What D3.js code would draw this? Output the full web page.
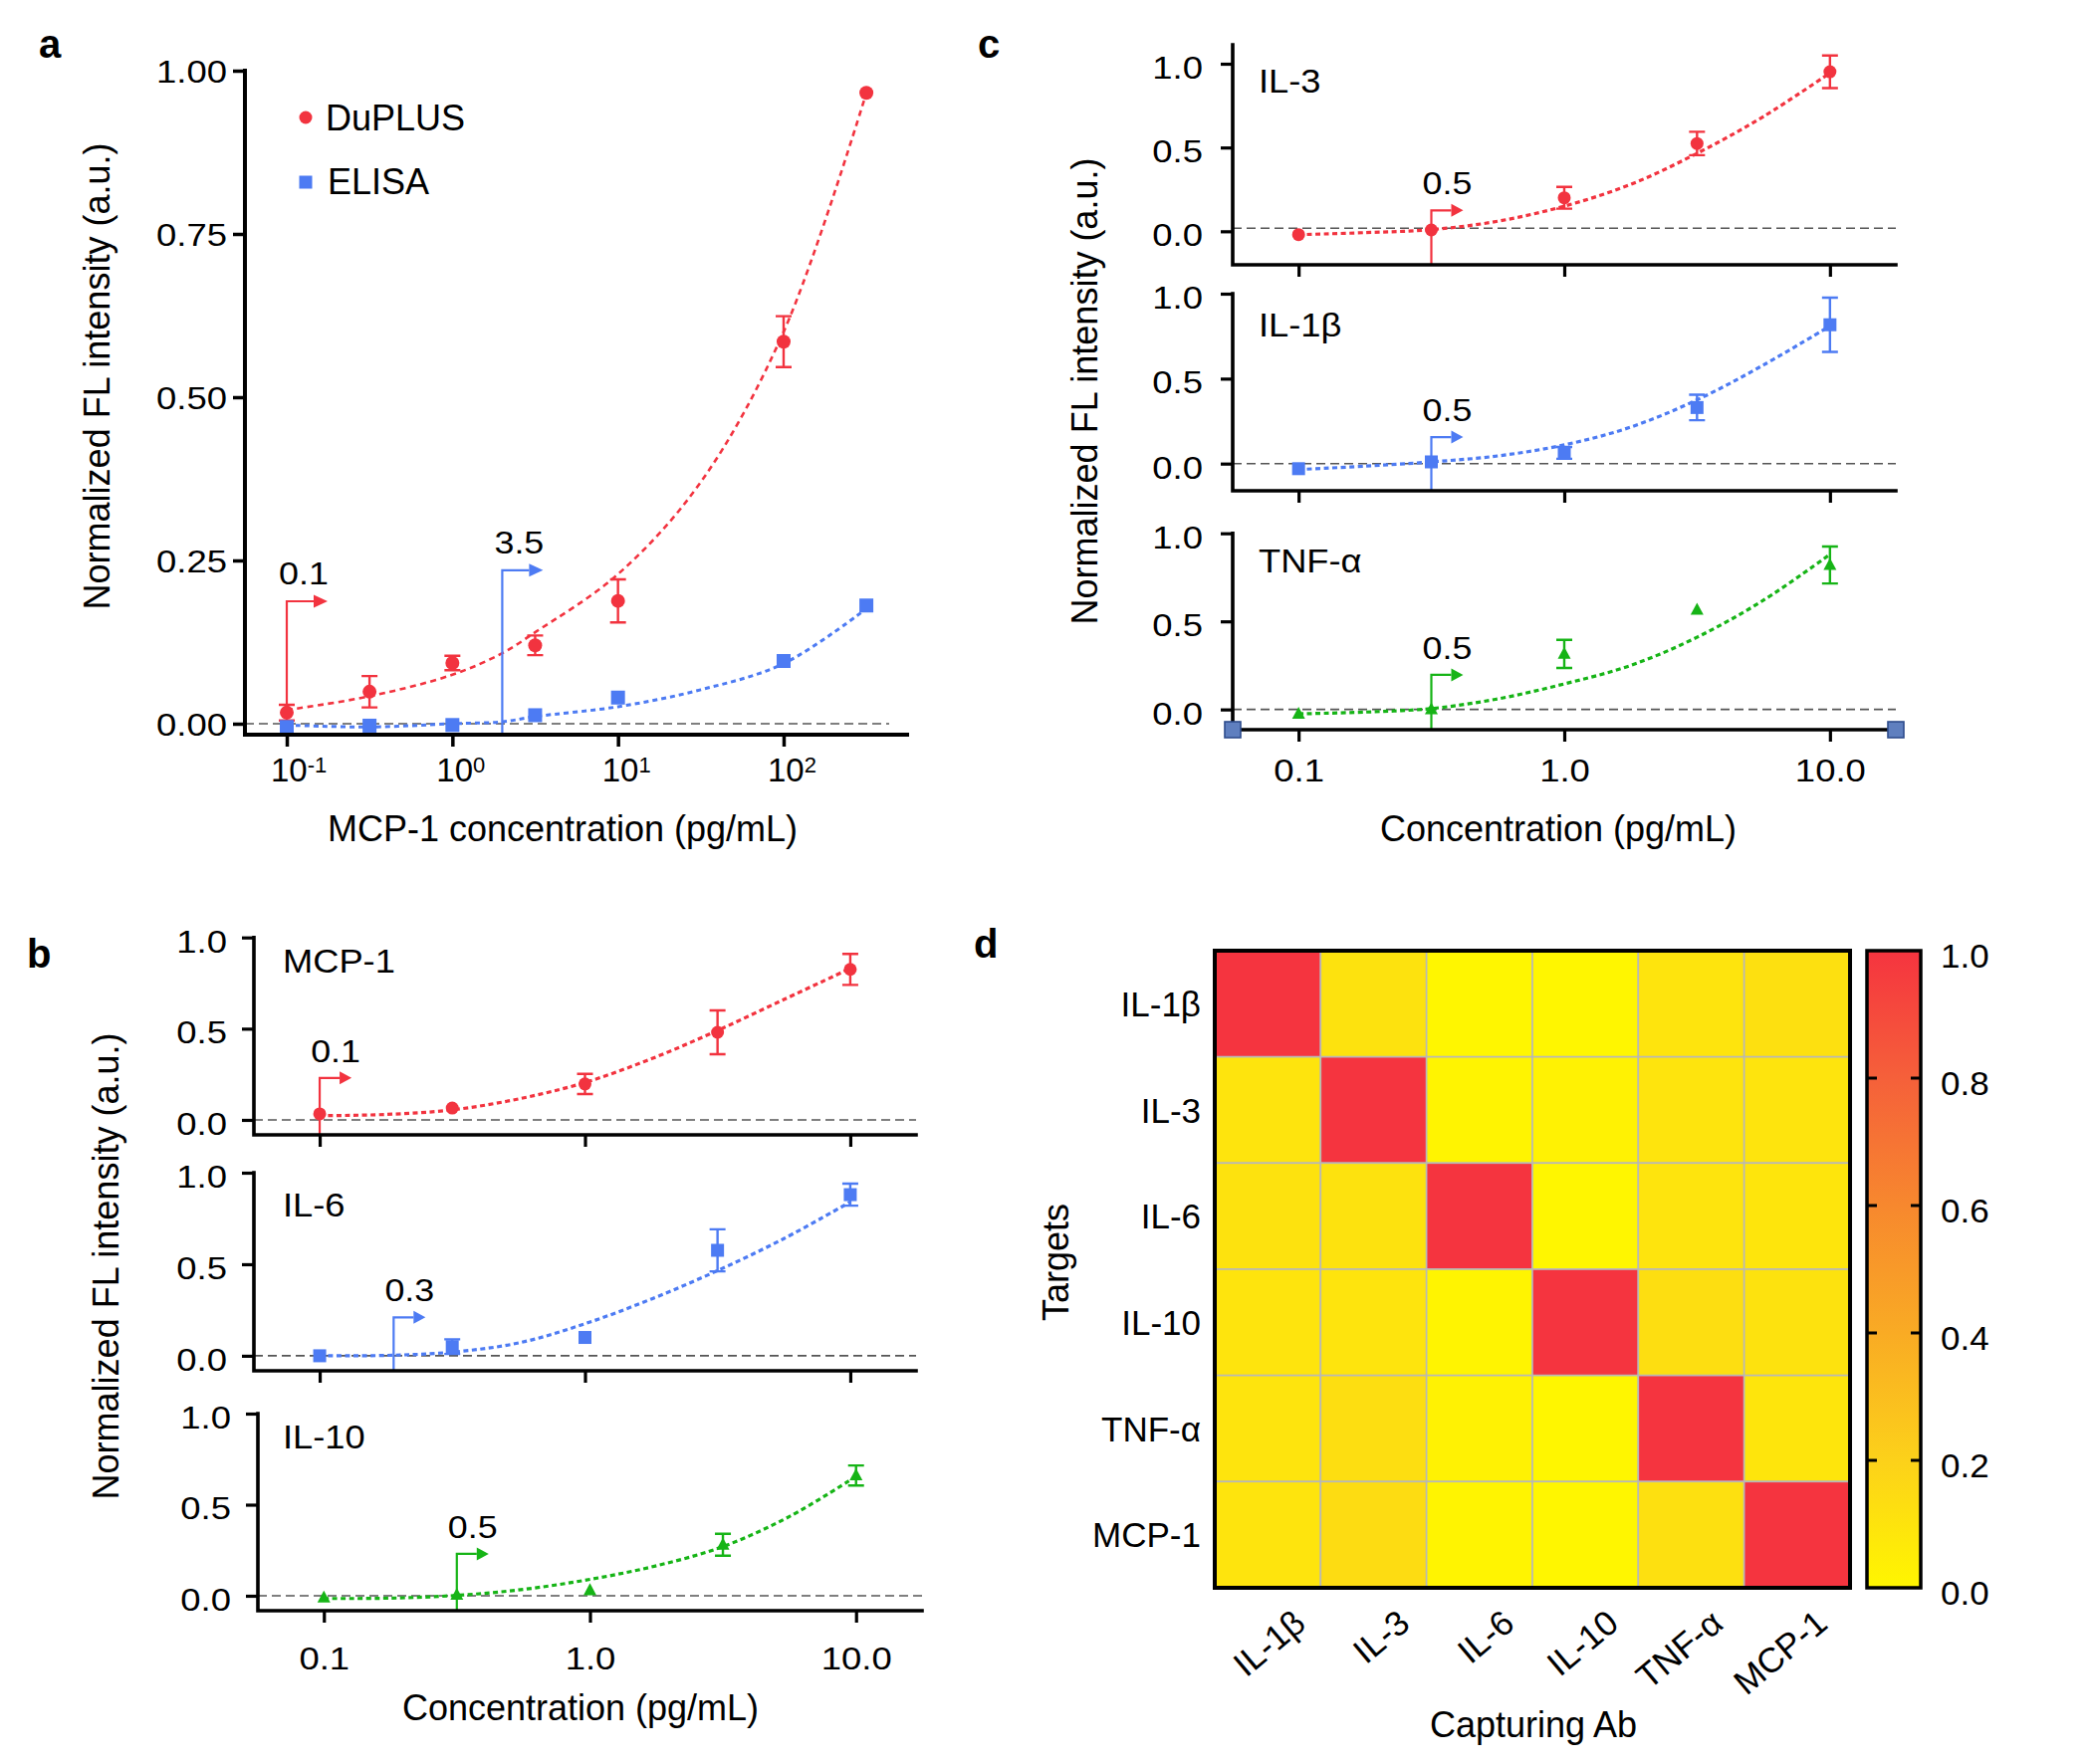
<!DOCTYPE html>
<html>
<head>
<meta charset="utf-8">
<script src="https://cdn.jsdelivr.net/npm/d3@7/dist/d3.min.js"></script>
<style>
  html,body{margin:0;padding:0;background:#fff;}
  svg{display:block;}
  text{font-family:"Liberation Sans", Arial, Helvetica, sans-serif; fill:#000;}
</style>
</head>
<body>
<svg id="fig" width="2100" height="1772" viewBox="0 0 2100 1772"></svg>
<script>
// ====================== DATA ======================
// ---- Panel a : MCP-1, DuPLUS vs ELISA ----
const concA = [0.1, 0.316, 1, 3.16, 10, 100, 316];
const duplusA = [0.017, 0.049, 0.093, 0.120, 0.188, 0.585, 0.966];
const duplusErrA = [0.012, 0.024, 0.011, 0.015, 0.033, 0.039, 0];
const elisaA = [-0.005, -0.003, -0.002, 0.013, 0.040, 0.096, 0.181];
const elisaErrA = [0, 0, 0, 0, 0, 0, 0];
const fitConcA = [0.1, 0.316, 1, 2, 3.16, 10, 31.6, 100, 316];
const duplusFitA = [0.021, 0.042, 0.075, 0.108, 0.140, 0.229, 0.370, 0.600, 0.966];
const elisaFitA = [-0.002, -0.005, 0.000, 0.003, 0.011, 0.026, 0.052, 0.092, 0.176];
const yTicksA = [0, 0.25, 0.5, 0.75, 1.0];
const yTickLabelsA = ["0.00", "0.25", "0.50", "0.75", "1.00"];
const xTicksA = [0.1, 1, 10, 100];
const xTickExpA = ["-1", "0", "1", "2"];
const legendA = ["DuPLUS", "ELISA"];
const lodA = [
  {x: 0.1, top: 0.1875, label: "0.1"},
  {x: 2.0, top: 0.235, label: "3.5"}
];

// ---- Panels b and c : shared axes ----
const concBC = [0.1, 0.316, 1, 3.16, 10];
const fitConcBC = [0.1, 0.178, 0.316, 0.562, 1, 1.78, 3.16, 5.62, 10];
const xTicksBC = [0.1, 1, 10];
const xTickLabelsBC = ["0.1", "1.0", "10.0"];
const yTicksBC = [0, 0.5, 1.0];
const yTickLabelsBC = ["0.0", "0.5", "1.0"];

// ---- Panel b ----
const namesB = ["MCP-1", "IL-6", "IL-10"];
const valuesB = [
  [0.033, 0.065, 0.197, 0.480, 0.825],
  [0.000, 0.050, 0.100, 0.576, 0.880],
  [-0.010, 0.005, 0.030, 0.280, 0.660]
];
const errorsB = [
  [0, 0, 0.055, 0.120, 0.085],
  [0, 0.040, 0, 0.115, 0.060],
  [0, 0, 0, 0.060, 0.055]
];
const fitsB = [
  [0.023, 0.030, 0.055, 0.115, 0.205, 0.335, 0.490, 0.660, 0.830],
  [0.000, 0.002, 0.020, 0.070, 0.175, 0.310, 0.465, 0.640, 0.840],
  [-0.015, -0.013, 0.002, 0.035, 0.090, 0.165, 0.270, 0.435, 0.655]
];
const lodB = [
  {x: 0.1, top: 0.23, label: "0.1"},
  {x: 0.19, top: 0.21, label: "0.3"},
  {x: 0.316, top: 0.23, label: "0.5"}
];
const baselineB = [0, 0, 0];

// ---- Panel c ----
const namesC = ["IL-3", "IL-1β", "TNF-α"];
const valuesC = [
  [-0.020, 0.008, 0.200, 0.524, 0.952],
  [-0.030, 0.010, 0.063, 0.330, 0.817],
  [-0.025, 0.000, 0.315, 0.565, 0.820]
];
const errorsC = [
  [0, 0, 0.065, 0.070, 0.097],
  [0, 0, 0.035, 0.075, 0.160],
  [0, 0, 0.080, 0, 0.105]
];
const fitsC = [
  [-0.020, -0.008, 0.010, 0.060, 0.150, 0.280, 0.465, 0.685, 0.945],
  [-0.035, -0.015, 0.010, 0.045, 0.110, 0.215, 0.375, 0.580, 0.810],
  [-0.025, -0.015, 0.005, 0.060, 0.145, 0.250, 0.410, 0.620, 0.880]
];
const lodC = [
  {x: 0.316, top: 0.125, label: "0.5"},
  {x: 0.316, top: 0.156, label: "0.5"},
  {x: 0.316, top: 0.196, label: "0.5"}
];
const baselineC = [0.018, 0, 0];

// ---- Panel d : cross-reactivity heatmap ----
const targets = ["IL-1β", "IL-3", "IL-6", "IL-10", "TNF-α", "MCP-1"];
const capturingAbs = ["IL-1β", "IL-3", "IL-6", "IL-10", "TNF-α", "MCP-1"];
const crossValues = [
  [1.00, 0.11, 0.00, 0.00, 0.10, 0.12],
  [0.10, 1.00, 0.01, 0.02, 0.10, 0.10],
  [0.11, 0.11, 1.00, 0.00, 0.10, 0.09],
  [0.10, 0.10, 0.01, 1.00, 0.13, 0.11],
  [0.10, 0.13, 0.02, 0.00, 1.00, 0.09],
  [0.10, 0.14, 0.01, 0.00, 0.12, 1.00]
];
const colorbarTicks = [0, 0.2, 0.4, 0.6, 0.8, 1.0];
const colorbarTickLabels = ["0.0", "0.2", "0.4", "0.6", "0.8", "1.0"];

// ====================== STYLE ======================
const RED = "#f2333f", BLUE = "#4d7bf3", GREEN = "#16b416";
const colorStops = [0, 0.2, 0.4, 0.6, 0.8, 1.0];
const colorRange = ["#fff600", "#fcd11a", "#f9ab24", "#f7882e", "#f5603a", "#f5343f"];
const TICK_FS = 32, TICK_SX = 1.14;

const svg = d3.select("#fig");

function txt(parent, x, y, s, size, opts = {}) {
  const t = parent.append("text").attr("x", x).attr("y", y).text(s)
    .attr("font-size", size).attr("text-anchor", opts.anchor || "start");
  if (opts.weight) t.attr("font-weight", opts.weight);
  if (opts.rotate !== undefined) t.attr("transform", `rotate(${opts.rotate},${x},${y})`);
  return t;
}
// horizontal stretch (the original lettering is slightly wide)
function stretch(sel, k) {
  sel.each(function () {
    const t = d3.select(this);
    const x = +t.attr("x") || 0;
    t.attr("x", x / k).attr("transform", `scale(${k},1)`);
  });
  return sel;
}

function drawMarkers(g, pts, shape, color, sz) {
  const h = sz / 2;
  if (shape === "circle") {
    g.selectAll(null).data(pts).join("circle")
      .attr("cx", d => d.px).attr("cy", d => d.py).attr("r", h).attr("fill", color);
  } else if (shape === "square") {
    g.selectAll(null).data(pts).join("rect")
      .attr("x", d => d.px - h).attr("y", d => d.py - h)
      .attr("width", sz).attr("height", sz).attr("fill", color);
  } else {
    g.selectAll(null).data(pts).join("path")
      .attr("d", d => `M${d.px},${d.py - h * 1.1}L${d.px + h},${d.py + h * 0.75}L${d.px - h},${d.py + h * 0.75}Z`)
      .attr("fill", color);
  }
}

function drawErrors(g, pts, color, capW) {
  const e = pts.filter(d => d.err > 0);
  g.selectAll(null).data(e).join("path")
    .attr("d", d => `M${d.px},${d.pLo}V${d.pHi}M${d.px - capW / 2},${d.pLo}h${capW}M${d.px - capW / 2},${d.pHi}h${capW}`)
    .attr("stroke", color).attr("stroke-width", 2.4).attr("fill", "none");
}

function drawArrow(g, x, y, lod, yBottom, color, len, headL, headH) {
  const ax = x(lod.x), ay = y(lod.top);
  g.append("path")
    .attr("d", `M${ax},${yBottom}V${ay}H${ax + len - headL}`)
    .attr("stroke", color).attr("stroke-width", 2.2).attr("fill", "none");
  g.append("path")
    .attr("d", `M${ax + len - headL},${ay - headH / 2}L${ax + len},${ay}L${ax + len - headL},${ay + headH / 2}Z`)
    .attr("fill", color);
  return {ax, ay};
}

const smooth = d3.curveCatmullRom.alpha(0.5);

// ====================== PANEL a ======================
(function () {
  const L = {x0: 246, x1: 911, yBot: 738, yTop: 71, yMin: -0.0168, yMax: 1.0};
  const x = d3.scaleLog().domain([0.0559, 556.7]).range([L.x0, L.x1]);
  const y = d3.scaleLinear().domain([L.yMin, L.yMax]).range([L.yBot, L.yTop]);
  const g = svg.append("g");

  g.append("line").attr("x1", L.x0).attr("x2", 893).attr("y1", y(0)).attr("y2", y(0))
    .attr("stroke", "#555").attr("stroke-width", 1.6).attr("stroke-dasharray", "9,5");

  const line = d3.line().x(d => x(d[0])).y(d => y(d[1])).curve(smooth);
  g.append("path").attr("d", line(fitConcA.map((c, i) => [c, duplusFitA[i]])))
    .attr("fill", "none").attr("stroke", RED).attr("stroke-width", 2.6).attr("stroke-dasharray", "6,4.5");
  g.append("path").attr("d", line(fitConcA.map((c, i) => [c, elisaFitA[i]])))
    .attr("fill", "none").attr("stroke", BLUE).attr("stroke-width", 3).attr("stroke-dasharray", "5,4");

  [RED, BLUE].forEach((col, i) => {
    const p = drawArrow(g, x, y, lodA[i], L.yBot, col, 41, 14, 13);
    stretch(txt(g, p.ax + 17, p.ay - 17, lodA[i].label, 32, {anchor: "middle"}), 1.12);
  });

  const ptsD = concA.map((c, i) => ({px: x(c), py: y(duplusA[i]), err: duplusErrA[i],
    pLo: y(duplusA[i] - duplusErrA[i]), pHi: y(duplusA[i] + duplusErrA[i])}));
  const ptsE = concA.map((c, i) => ({px: x(c), py: y(elisaA[i]), err: elisaErrA[i],
    pLo: y(elisaA[i] - elisaErrA[i]), pHi: y(elisaA[i] + elisaErrA[i])}));
  drawErrors(g, ptsD, RED, 16);
  drawErrors(g, ptsE, BLUE, 16);
  drawMarkers(g, ptsD, "circle", RED, 14);
  drawMarkers(g, ptsE, "square", BLUE, 14);

  const ya = g.append("g").attr("transform", `translate(${L.x0},0)`)
    .call(d3.axisLeft(y).tickValues(yTicksA).tickFormat((d, i) => yTickLabelsA[i]).tickSize(12).tickPadding(6));
  ya.select(".domain").remove();
  ya.selectAll(".tick line").attr("stroke", "#000").attr("stroke-width", 3.5);
  stretch(ya.selectAll(".tick text").attr("font-size", TICK_FS).attr("dy", "0.36em").attr("fill", "#000"), TICK_SX);

  const xa = g.append("g").attr("transform", `translate(0,${L.yBot})`)
    .call(d3.axisBottom(x).tickValues(xTicksA).tickFormat("").tickSize(12));
  xa.select(".domain").remove();
  xa.selectAll(".tick line").attr("stroke", "#000").attr("stroke-width", 3.5);

  const xl = g.selectAll(".xlabA").data(xTicksA).join("text")
    .attr("x", d => x(d) - 16).attr("y", 785).attr("font-size", 33);
  xl.append("tspan").text("10");
  xl.append("tspan").attr("font-size", 22).attr("dy", -9).text((d, i) => xTickExpA[i]);

  g.append("path").attr("d", `M${L.x0},${L.yTop}V${L.yBot}H${L.x1}`)
    .attr("fill", "none").attr("stroke", "#000").attr("stroke-width", 4).attr("stroke-linecap", "square");

  g.append("circle").attr("cx", 307).attr("cy", 118).attr("r", 6.5).attr("fill", RED);
  txt(g, 327, 131, legendA[0], 36);
  g.append("rect").attr("x", 300.5).attr("y", 176.5).attr("width", 13).attr("height", 13).attr("fill", BLUE);
  txt(g, 329, 195, legendA[1], 36);

  txt(g, 565, 845, "MCP-1 concentration (pg/mL)", 36, {anchor: "middle"});
  txt(g, 110, 378, "Normalized FL intensity (a.u.)", 36, {anchor: "middle", rotate: -90});
  txt(g, 39, 58, "a", 40, {weight: "bold"});
})();

// ====================== PANELS b, c ======================
function drawSub(L, name, vals, errs, fit, lod, base, color, shape) {
  const x = d3.scaleLog().domain([0.0565, 17.7]).range([L.x0, L.x1]);
  const y = d3.scaleLinear().domain([L.yMin, L.yMax]).range([L.yBot, L.yTop]);
  const g = svg.append("g");

  g.append("line").attr("x1", L.x0).attr("x2", L.x1).attr("y1", y(base)).attr("y2", y(base))
    .attr("stroke", "#555").attr("stroke-width", 1.6).attr("stroke-dasharray", "9,5");

  const line = d3.line().x(d => x(d[0])).y(d => y(d[1])).curve(smooth);
  g.append("path").attr("d", line(fitConcBC.map((c, i) => [c, fit[i]])))
    .attr("fill", "none").attr("stroke", color).attr("stroke-width", 3.2).attr("stroke-dasharray", "5,3.5");

  const p = drawArrow(g, x, y, lod, L.yBot, color, 32, 12, 13);
  stretch(txt(g, p.ax + 16, p.ay - 16, lod.label, 32, {anchor: "middle"}), 1.12);

  const pts = concBC.map((c, i) => ({px: x(c), py: y(vals[i]), err: errs[i],
    pLo: y(vals[i] - errs[i]), pHi: y(vals[i] + errs[i])}));
  drawErrors(g, pts, color, 16);
  drawMarkers(g, pts, shape, color, 13);

  const ya = g.append("g").attr("transform", `translate(${L.x0},0)`)
    .call(d3.axisLeft(y).tickValues(yTicksBC).tickFormat((d, i) => yTickLabelsBC[i]).tickSize(12).tickPadding(L.yPad));
  ya.select(".domain").remove();
  ya.selectAll(".tick line").attr("stroke", "#000").attr("stroke-width", 3.2);
  stretch(ya.selectAll(".tick text").attr("font-size", TICK_FS).attr("dy", "0.45em").attr("fill", "#000"), TICK_SX);

  const xa = g.append("g").attr("transform", `translate(0,${L.yBot})`)
    .call(d3.axisBottom(x).tickValues(xTicksBC)
      .tickFormat(L.xLab ? (d, i) => xTickLabelsBC[i] : "").tickSize(12));
  xa.select(".domain").remove();
  xa.selectAll(".tick line").attr("stroke", "#000").attr("stroke-width", 3.2);
  stretch(xa.selectAll(".tick text").attr("font-size", TICK_FS).attr("y", L.xLab || 0).attr("dy", 0).attr("fill", "#000"), TICK_SX);

  g.append("path").attr("d", `M${L.x0},${L.yTop}V${L.yBot}H${L.x1}`)
    .attr("fill", "none").attr("stroke", "#000").attr("stroke-width", 3.6).attr("stroke-linecap", "square");

  stretch(txt(g, L.nameX, L.nameY, name, 33), 1.1);
  return {x, y, g};
}

const layoutB = [
  {x0: 255, x1: 920, yBot: 1140, yTop: 941.7, yMin: -0.082, yMax: 1.0, yPad: 15, nameX: 284, nameY: 977},
  {x0: 255, x1: 920, yBot: 1377, yTop: 1178, yMin: -0.082, yMax: 1.0, yPad: 15, nameX: 284, nameY: 1222},
  {x0: 259, x1: 926, yBot: 1618, yTop: 1420, yMin: -0.082, yMax: 1.0, yPad: 15, nameX: 284, nameY: 1455, xLab: 59}
];
const layoutC = [
  {x0: 1238, x1: 1904, yBot: 266, yTop: 45, yMin: -0.2, yMax: 1.113, yPad: 18, nameX: 1264, nameY: 93},
  {x0: 1238, x1: 1904, yBot: 493, yTop: 295, yMin: -0.16, yMax: 1.0, yPad: 18, nameX: 1264, nameY: 338},
  {x0: 1238, x1: 1904, yBot: 733, yTop: 535.7, yMin: -0.115, yMax: 1.0, yPad: 18, nameX: 1264, nameY: 575, xLab: 52}
];
const colorsBC = [RED, BLUE, GREEN];
const shapesBC = ["circle", "square", "triangle"];

namesB.forEach((n, i) => drawSub(layoutB[i], n, valuesB[i], errorsB[i], fitsB[i], lodB[i], baselineB[i], colorsBC[i], shapesBC[i]));
let lastC;
namesC.forEach((n, i) => { lastC = drawSub(layoutC[i], n, valuesC[i], errorsC[i], fitsC[i], lodC[i], baselineC[i], colorsBC[i], shapesBC[i]); });

// end handles on panel c bottom axis
lastC.x.range().forEach(px => {
  lastC.g.append("rect").attr("x", px - 8).attr("y", 733 - 8).attr("width", 16).attr("height", 16)
    .attr("fill", "#5f7fbf").attr("stroke", "#2d4c8c").attr("stroke-width", 1.6);
});

txt(svg, 583, 1728, "Concentration (pg/mL)", 36, {anchor: "middle"});
txt(svg, 119, 1272, "Normalized FL intensity (a.u.)", 36, {anchor: "middle", rotate: -90});
txt(svg, 27, 972, "b", 40, {weight: "bold"});
txt(svg, 1565, 845, "Concentration (pg/mL)", 36, {anchor: "middle"});
txt(svg, 1102, 393, "Normalized FL intensity (a.u.)", 36, {anchor: "middle", rotate: -90});
txt(svg, 982, 58, "c", 40, {weight: "bold"});

// ====================== PANEL d ======================
(function () {
  const g = svg.append("g");
  const xh = d3.scaleBand().domain(capturingAbs).range([1220, 1858]);
  const yh = d3.scaleBand().domain(targets).range([955, 1595]);
  const color = d3.scaleLinear().domain(colorStops).range(colorRange).interpolate(d3.interpolateRgb);
  const cells = targets.flatMap((t, i) => capturingAbs.map((c, j) => ({t, c, v: crossValues[i][j]})));

  g.selectAll(null).data(cells).join("rect")
    .attr("x", d => xh(d.c)).attr("y", d => yh(d.t))
    .attr("width", xh.bandwidth()).attr("height", yh.bandwidth())
    .attr("fill", d => color(d.v)).attr("stroke", "#b8b8b8").attr("stroke-width", 1.6);
  g.append("rect").attr("x", 1220).attr("y", 955).attr("width", 638).attr("height", 640)
    .attr("fill", "none").attr("stroke", "#000").attr("stroke-width", 4);

  g.selectAll(null).data(targets).join("text")
    .attr("x", 1206).attr("y", d => yh(d) + yh.bandwidth() / 2).attr("dy", "0.36em")
    .attr("text-anchor", "end").attr("font-size", 35).text(d => d);
  g.selectAll(null).data(capturingAbs).join("text")
    .attr("text-anchor", "end").attr("font-size", 35)
    .attr("transform", (d, i) => `translate(${xh(d) + xh.bandwidth() / 2 + 40 - i * 1.5},1634) rotate(-40)`)
    .text(d => d);

  const cb = d3.scaleLinear().domain([0, 1]).range([1595, 955]);
  const grad = svg.append("defs").append("linearGradient").attr("id", "cbgrad")
    .attr("x1", 0).attr("y1", 1).attr("x2", 0).attr("y2", 0);
  colorStops.forEach((s, i) => grad.append("stop").attr("offset", s).attr("stop-color", colorRange[i]));
  g.append("rect").attr("x", 1875).attr("y", 955).attr("width", 54).attr("height", 640)
    .attr("fill", "url(#cbgrad)").attr("stroke", "#000").attr("stroke-width", 3.5);
  const inner = colorbarTicks.filter(v => v > 0 && v < 1);
  g.selectAll(null).data(inner).join("path")
    .attr("d", v => `M1875,${cb(v)}h10M1929,${cb(v)}h-10`)
    .attr("stroke", "#000").attr("stroke-width", 3);
  stretch(g.selectAll(null).data(colorbarTicks).join("text")
    .attr("x", 1949).attr("y", v => cb(v) + 5).attr("dy", "0.36em")
    .attr("font-size", 33).text((v, i) => colorbarTickLabels[i]), 1.06);

  txt(g, 1540, 1745, "Capturing Ab", 36, {anchor: "middle"});
  txt(g, 1073, 1268, "Targets", 36, {anchor: "middle", rotate: -90});
  txt(g, 978, 962, "d", 40, {weight: "bold"});
})();
</script>
</body>
</html>
